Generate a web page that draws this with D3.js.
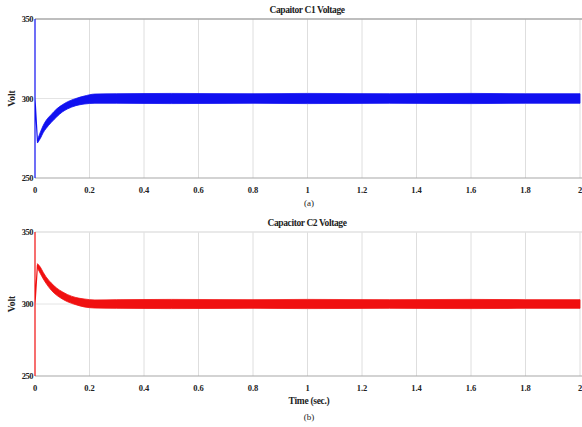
<!DOCTYPE html>
<html>
<head>
<meta charset="utf-8">
<script src="https://cdn.jsdelivr.net/npm/d3@7/dist/d3.min.js"></script>
<style>
  body { margin: 0; background: #fff; overflow: hidden; }
  svg { display: block; }
  text { font-family: "Liberation Serif", "DejaVu Serif", serif; font-weight: bold; fill: #222; }
</style>
</head>
<body>
<div id="chart"></div>
<script>
// Capacitor voltages
const xTicks = [0, 0.2, 0.4, 0.6, 0.8, 1, 1.2, 1.4, 1.6, 1.8, 2];
const yTicks = [250, 300, 350];

// start-up jump at t = 0 (vertical trace, then to the first extreme)
const c1Start = [[0, 250], [0, 350], [0, 300], [0.009, 273]];
const c2Start = [[0, 250], [0, 350], [0, 300], [0.009, 327]];

// ripple band envelope (time, lower, upper)
const bandTime = [0.009, 0.02, 0.03, 0.04, 0.06, 0.08, 0.1, 0.12, 0.15, 0.18, 0.22, 0.3, 0.5, 0.8, 1.0, 1.3, 1.6, 1.8, 2.0];
const c1Lower = [272, 275, 278.5, 281, 285, 288.5, 291.5, 293.5, 295.5, 296.5, 297, 297, 296.8, 297, 296.8, 297, 296.8, 297, 297];
const c1Upper = [274, 279, 283, 286, 290, 293.5, 296, 298, 300, 301.5, 302.8, 303, 303.2, 303, 303.2, 303, 303.2, 303, 303];
const c2Lower = [325, 321, 317.5, 314.5, 309.5, 306, 303.5, 301.5, 299.5, 298, 297.2, 297, 296.8, 297, 296.8, 297, 296.8, 297, 297];
const c2Upper = [328, 325.5, 322, 319, 314.5, 311, 308.5, 306.5, 304.5, 303.5, 302.8, 303, 303.2, 303, 303.2, 303, 303.2, 303, 303];

const panels = [
  { title: 'Capaitor C1 Voltage', tag: '(a)', color: '#1010f0', start: c1Start, lower: c1Lower, upper: c1Upper,
    top: 19, bottom: 178, topLine: '#a8a8a8', xLabel: null },
  { title: 'Capacitor C2 Voltage', tag: '(b)', color: '#f01010', start: c2Start, lower: c2Lower, upper: c2Upper,
    top: 232, bottom: 376, topLine: '#e2e2e2', xLabel: 'Time (sec.)' }
];

const width = 582, height = 427;
const left = 35, right = 580;

const svg = d3.select('#chart').append('svg')
  .attr('width', width)
  .attr('height', height);

const x = d3.scaleLinear().domain([0, 2]).range([left, right]);

panels.forEach(p => {
  const y = d3.scaleLinear().domain([250, 350]).range([p.bottom, p.top]);
  const g = svg.append('g');

  // grid
  g.selectAll('.vgrid').data(xTicks.slice(1)).join('line')
    .attr('x1', d => x(d)).attr('x2', d => x(d))
    .attr('y1', p.top).attr('y2', p.bottom)
    .attr('stroke', '#dedede').attr('stroke-width', 1);
  g.append('line')
    .attr('x1', left).attr('x2', right)
    .attr('y1', y(300)).attr('y2', y(300))
    .attr('stroke', '#e4e4e4').attr('stroke-width', 1);

  // frame
  g.append('line')
    .attr('x1', left).attr('x2', width)
    .attr('y1', p.top).attr('y2', p.top)
    .attr('stroke', p.topLine).attr('stroke-width', 1.5);
  g.append('line')
    .attr('x1', left).attr('x2', width)
    .attr('y1', p.bottom).attr('y2', p.bottom)
    .attr('stroke', '#a8a8a8').attr('stroke-width', 1.2);

  // ripple band
  const band = bandTime.map((t, i) => ({ t, lo: p.lower[i], hi: p.upper[i] }));
  const area = d3.area()
    .x(d => x(d.t))
    .y0(d => y(d.lo))
    .y1(d => y(d.hi))
    .curve(d3.curveMonotoneX);
  g.append('path')
    .datum(band)
    .attr('d', area)
    .attr('fill', p.color)
    .attr('stroke', p.color)
    .attr('stroke-width', 0.8);

  // start-up trace
  g.append('path')
    .datum(p.start)
    .attr('d', d3.line().x(d => x(d[0])).y(d => y(d[1])))
    .attr('fill', 'none')
    .attr('stroke', p.color)
    .attr('stroke-width', 1.2);

  // axes labels
  g.selectAll('.xt').data(xTicks).join('text')
    .attr('x', d => x(d))
    .attr('y', p.bottom + 15)
    .attr('text-anchor', 'middle')
    .style('font-size', '8.5px')
    .text(d => d3.format('~g')(d));
  g.selectAll('.yt').data(yTicks).join('text')
    .attr('x', left - 2)
    .attr('y', d => y(d) + 3)
    .attr('text-anchor', 'end')
    .style('font-size', '8.5px')
    .style('letter-spacing', '-0.5px')
    .text(d => d);

  g.append('text')
    .attr('transform', `translate(15, ${y(300)}) rotate(-90)`)
    .attr('text-anchor', 'middle')
    .style('font-size', '9.5px')
    .text('Volt');

  g.append('text')
    .attr('x', 307)
    .attr('y', p.top - 6)
    .attr('text-anchor', 'middle')
    .style('font-size', '9.5px')
    .style('letter-spacing', '-0.4px')
    .text(p.title);

  let yy = p.bottom + 28;
  if (p.xLabel) {
    g.append('text')
      .attr('x', 309)
      .attr('y', yy)
      .attr('text-anchor', 'middle')
      .style('font-size', '9.5px')
      .style('letter-spacing', '-0.3px')
      .text(p.xLabel);
    yy += 16;
  }
  g.append('text')
    .attr('x', 309)
    .attr('y', yy)
    .attr('text-anchor', 'middle')
    .style('font-size', '9px')
    .style('font-weight', 'normal')
    .text(p.tag);
});
</script>
</body>
</html>
